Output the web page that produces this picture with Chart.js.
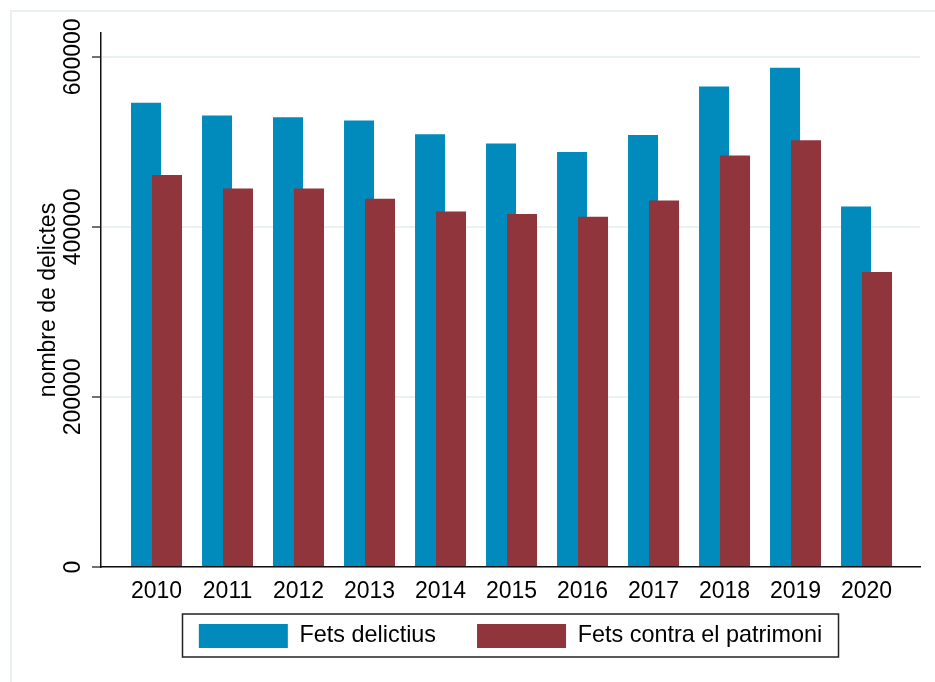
<!DOCTYPE html>
<html>
<head>
<meta charset="utf-8">
<script src="https://cdn.jsdelivr.net/npm/chart.js@4/dist/chart.umd.min.js"></script>
<style>
  html, body { margin: 0; padding: 0; background: #fff; overflow: hidden; }
  #wrap { width: 935px; height: 682px; position: relative; }
</style>
</head>
<body>
<div id="wrap"><canvas id="barChart"></canvas></div>
<script>
const years = ['2010', '2011', '2012', '2013', '2014', '2015', '2016', '2017', '2018', '2019', '2020'];
const fetsDelictius = [546000, 531000, 529000, 525000, 509000, 498000, 488000, 508000, 565000, 587000, 424000];
const fetsPatrimoni = [461000, 445000, 445000, 433000, 418000, 415000, 412000, 431000, 484000, 502000, 347000];
const yTicks = [0, 200000, 400000, 600000];

Chart.defaults.font.family = "'Liberation Sans', Arial, sans-serif";
Chart.defaults.color = '#000';

// light outer frame like the stata graph region
const frame = {
    id: 'frame',
    beforeDraw(chart) {
        const c = chart.ctx;
        c.save();
        c.strokeStyle = '#e8f0f1';
        c.lineWidth = 2;
        c.beginPath();
        c.moveTo(11, chart.height);
        c.lineTo(11, 11);
        c.lineTo(chart.width, 11);
        c.stroke();
        c.restore();
    }
};

// red bars are drawn over the blue ones
const redOnTop = {
    id: 'redOnTop',
    beforeDatasetDraw(chart, args) {
        if (args.index === 1) return false;
    },
    afterDatasetsDraw(chart) {
        chart.getDatasetMeta(1).controller.draw();
    }
};

// box round the legend
const legendBox = {
    id: 'legendBox',
    afterDraw(chart) {
        const hb = chart.legend.legendHitBoxes;
        if (!hb || !hb.length) return;
        const w = 656;
        const cx = (chart.chartArea.left + chart.chartArea.right) / 2;
        const c = chart.ctx;
        c.save();
        c.strokeStyle = '#222';
        c.lineWidth = 1.5;
        c.strokeRect(cx - w / 2, hb[0].top - 10, w, hb[0].height + 19);
        c.restore();
    }
};

const ctx = document.getElementById('barChart').getContext('2d');
const barChart = new Chart(ctx, {
    type: 'bar',
    data: {
        datasets: [
            {
                label: 'Fets delictius',
                data: fetsDelictius.map((v, i) => ({ x: i, y: v })),
                backgroundColor: '#008bbc',
                borderWidth: 0
            },
            {
                label: 'Fets contra el patrimoni',
                data: fetsPatrimoni.map((v, i) => ({ x: i, y: v })),
                backgroundColor: '#90353b',
                borderWidth: 0
            }
        ]
    },
    options: {
        responsive: true,
        maintainAspectRatio: false,
        animation: false,
        categoryPercentage: 0.5915,
        barPercentage: 1.4286,
        layout: {
            padding: { top: 33, right: 15, bottom: 24, left: 0 }
        },
        scales: {
            x: {
                type: 'linear',
                offset: false,
                min: -0.782,
                max: 10.753,
                grid: { display: false, drawTicks: false },
                border: { display: true, color: '#111', width: 1.5 },
                ticks: {
                    stepSize: 1,
                    includeBounds: false,
                    autoSkip: false,
                    maxRotation: 0,
                    padding: 11,
                    font: { size: 23 },
                    callback: (v) => years[v]
                },
                afterFit: (scale) => { scale.height = 38; }
            },
            y: {
                min: 0,
                max: 628000,
                grid: {
                    color: '#eaf2f3',
                    lineWidth: 2,
                    drawTicks: true,
                    tickLength: 9,
                    tickColor: '#111',
                    tickWidth: 1.2
                },
                border: { display: true, color: '#111', width: 1.5 },
                afterBuildTicks: (scale) => {
                    scale.ticks = yTicks.map(v => ({ value: v }));
                },
                ticks: {
                    autoSkip: false,
                    includeBounds: false,
                    minRotation: 90,
                    maxRotation: 90,
                    crossAlign: 'center',
                    padding: -20,
                    font: { size: 23 },
                    callback: (v) => String(v)
                },
                title: {
                    display: true,
                    text: 'nombre de delictes',
                    font: { size: 23 },
                    padding: { top: 35, bottom: 0 }
                },
                afterFit: (scale) => { scale.width = 101; }
            }
        },
        plugins: {
            legend: {
                position: 'bottom',
                fullSize: false,
                // empty title with negative padding pulls the row up while
                // labels.padding keeps the wide gap between the two items
                title: {
                    display: true,
                    text: '',
                    font: { size: 1 },
                    padding: { top: -11.6, bottom: -11.6 }
                },
                labels: {
                    boxWidth: 89,
                    boxHeight: 24,
                    padding: 41,
                    font: { size: 23.4 },
                    color: '#000'
                }
            },
            tooltip: { enabled: false }
        }
    },
    plugins: [frame, redOnTop, legendBox]
});
</script>
</body>
</html>
